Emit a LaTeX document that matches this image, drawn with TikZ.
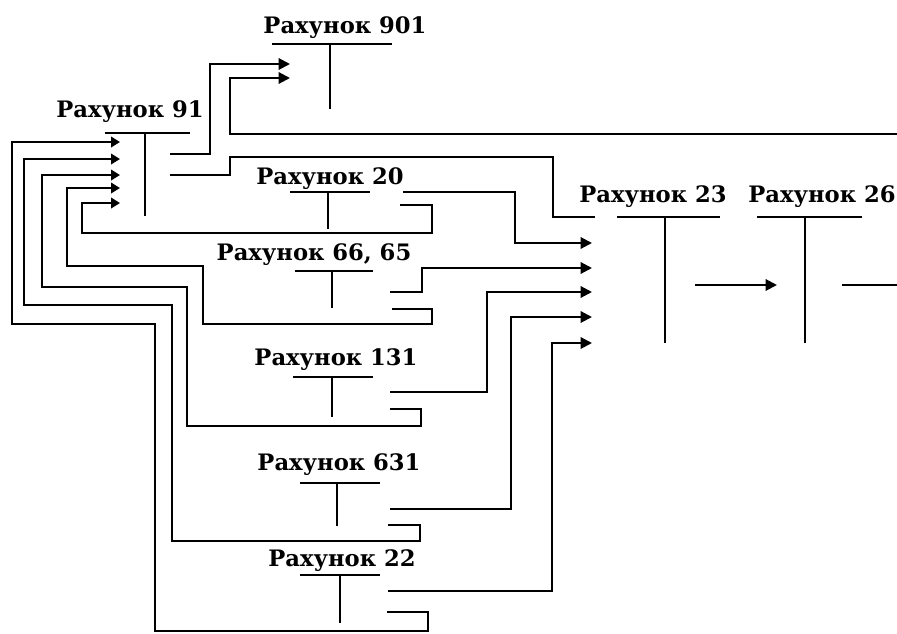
\documentclass[tikz,border=0pt]{standalone}
\usepackage{fontspec}
\setmainfont{DejaVu Serif}
\usetikzlibrary{arrows.meta, positioning}

\begin{document}
\begin{tikzpicture}[
    x=0.02cm, y=-0.02cm,
    title/.style={font=\bfseries\fontsize{12.9}{14}\selectfont, inner sep=0pt, anchor=base},
    tline/.style={line width=1.2pt},
    link/.style={line width=1.2pt},
    arr/.style={link, -{Triangle[length=2.3mm, width=2.3mm]}},
    sarr/.style={link, -{Triangle[length=1.8mm, width=2.1mm]}},
]
\useasboundingbox (0,0) rectangle (897,633);

% account titles
\node[title] (a901) at (345,33) {Рахунок 901};
\node[title] (a91) at (130,117) {Рахунок 91};
\node[title] (a20) at (330,184) {Рахунок 20};
\node[title] (a66) at (314,260) {Рахунок 66, 65};
\node[title] (a131) at (336,365) {Рахунок 131};
\node[title] (a631) at (339,470) {Рахунок 631};
\node[title] (a22) at (342,566) {Рахунок 22};
\node[title] (a23) at (653,202) {Рахунок 23};
\node[title] (a26) at (822,202) {Рахунок 26};

% T-accounts
\draw[tline] (272,44) -- (392,44) (330,44) -- (330,109);
\draw[tline] (105,133) -- (190,133) (145,133) -- (145,216);
\draw[tline] (290,192) -- (370,192) (328,192) -- (328,229);
\draw[tline] (295,271) -- (373,271) (332,271) -- (332,308);
\draw[tline] (293,377) -- (373,377) (332,377) -- (332,417);
\draw[tline] (300,483) -- (380,483) (337,483) -- (337,526);
\draw[tline] (300,575) -- (380,575) (340,575) -- (340,623);
\draw[tline] (617,217) -- (720,217) (665,217) -- (665,343);
\draw[tline] (757,217) -- (862,217) (805,217) -- (805,343);

% entry points
\foreach \y [count=\i] in {142,159,175,188,203}
    \coordinate (in91-\i) at (120,\y);
\foreach \y [count=\i] in {243,268,292,317,343}
    \coordinate (in23-\i) at (592,\y);
\coordinate (in23-0) at (595,217);
\coordinate (in901-1) at (290,64);
\coordinate (in901-2) at (290,78);
\coordinate (in26) at (777,285);
\coordinate (edge1) at (897,134);
\coordinate (edge2) at (897,285);

% credit sides
\coordinate (cr91-1) at (170,154);
\coordinate (cr91-2) at (170,175);
\coordinate (cr20-1) at (403,192);
\coordinate (cr20-2) at (400,205);
\coordinate (cr66-1) at (390,292);
\coordinate (cr66-2) at (392,309);
\coordinate (cr131-1) at (390,392);
\coordinate (cr131-2) at (390,409);
\coordinate (cr631-1) at (390,509);
\coordinate (cr631-2) at (388,525);
\coordinate (cr22-1) at (388,591);
\coordinate (cr22-2) at (387,612);
\coordinate (cr23) at (695,285);
\coordinate (cr26) at (842,285);

% to account 91
\draw[sarr] (cr22-2) -- (428,612) -- (428,631) -- (155,631) -- (155,324) -- (12,324) |- (in91-1);
\draw[sarr] (cr631-2) -- (420,525) -- (420,541) -- (172,541) -- (172,305) -- (24,305) |- (in91-2);
\draw[sarr] (cr131-2) -- (421,409) -- (421,426) -- (187,426) -- (187,287) -- (42,287) |- (in91-3);
\draw[sarr] (cr66-2) -- (432,309) -- (432,324) -- (203,324) -- (203,266) -- (67,266) |- (in91-4);
\draw[sarr] (cr20-2) -- (432,205) -- (432,233) -- (82,233) |- (in91-5);

% to account 23
\draw[arr] (cr20-1) -| (515,243) -- (in23-1);
\draw[arr] (cr66-1) -| (422,268) -- (in23-2);
\draw[arr] (cr131-1) -| (487,292) -- (in23-3);
\draw[arr] (cr631-1) -| (511,317) -- (in23-4);
\draw[arr] (cr22-1) -| (552,343) -- (in23-5);
\draw[link] (cr91-2) -| (230,157) -| (553,217) -- (in23-0);

% to account 901
\draw[arr] (cr91-1) -| (210,64) -- (in901-1);
\draw[arr] (edge1) -| (230,78) -- (in901-2);

% to account 26
\draw[arr] (cr23) -- (in26);
\draw[link] (cr26) -- (edge2);
\end{tikzpicture}
\end{document}
